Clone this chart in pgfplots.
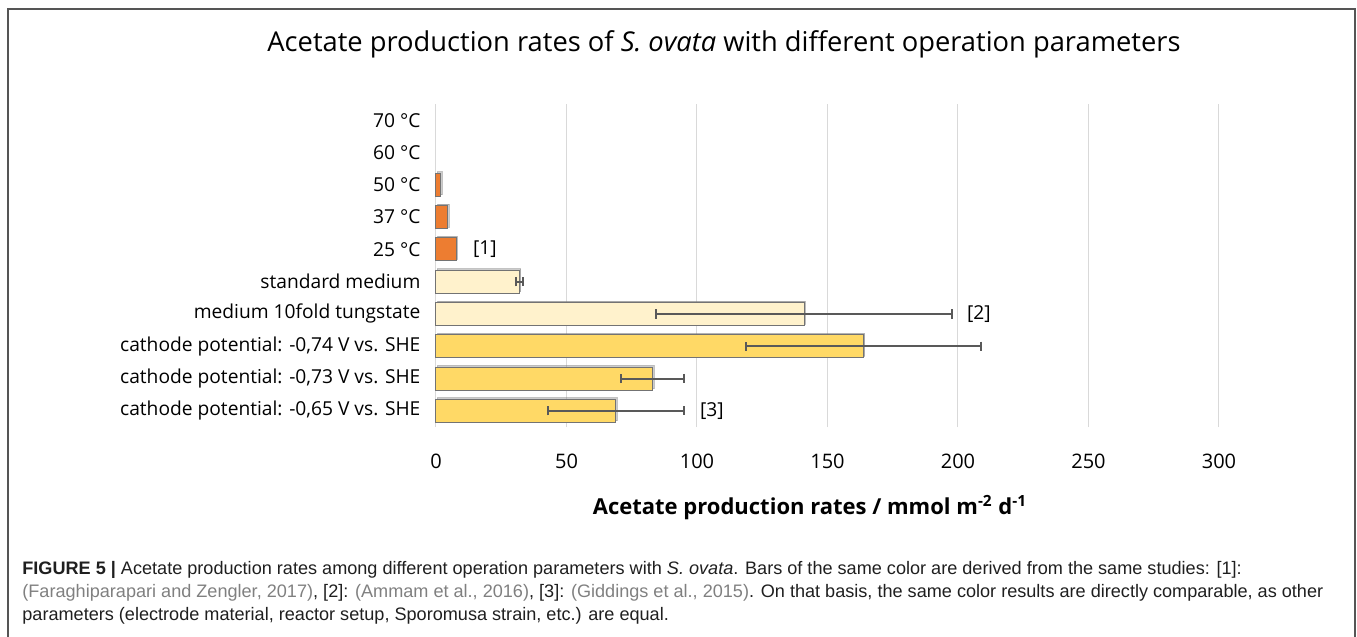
\documentclass[border=0pt]{standalone}
\usepackage{fontspec}
\setmainfont{Open Sans}
\newfontfamily\capfont{Liberation Sans}
\usepackage{pgfplots}
\pgfplotsset{compat=1.18}
\usetikzlibrary{shadows}
\definecolor{barorange}{HTML}{ED7D31}
\definecolor{barcream}{HTML}{FFF2CC}
\definecolor{bargold}{HTML}{FFD966}
\definecolor{gridgray}{HTML}{D9D9D9}
\definecolor{errgray}{HTML}{595959}
\definecolor{framegray}{HTML}{555555}
\begin{document}
\begin{tikzpicture}
\path[use as bounding box] (0,0) rectangle (678.5pt,-318.5pt);
% frame
\draw[framegray, line width=0.6pt] (4pt,-318.5pt) -- (4pt,-4.5pt) -- (677.5pt,-4.5pt) -- (677.5pt,-318.5pt);
% title
\node[font=\fontsize{13.65}{16}\selectfont] at (362pt,-22pt) {Acetate production rates of \textit{S. ovata} with different operation parameters};
\begin{axis}[
  at={(218pt,-213.5pt)}, anchor=south west,
  scale only axis, width=391.5pt, height=161.5pt,
  xbar, bar width=11.5pt,
  xmin=0, xmax=300, ymin=-0.5, ymax=9.5,
  xtick={0,50,...,300},
  ytick={0,...,9},
  yticklabels={cathode potential: -0{,}65 V vs. SHE, cathode potential: -0{,}73 V vs. SHE, cathode potential: -0{,}74 V vs. SHE, medium 10fold tungstate, standard medium, 25 °C, 37 °C, 50 °C, 60 °C, 70 °C},
  xmajorgrids, grid style={draw=gridgray, line width=0.5pt},
  axis line style={draw=none}, tick style={draw=none},
  /pgf/number format/assume math mode=true,
  xticklabel style={font=\fontsize{10}{12}\selectfont, yshift=-10pt},
  yticklabel style={font=\fontsize{9.6}{11}\selectfont, xshift=0pt},
  clip=false,
]
\addplot[bar shift=0pt, fill=barorange, draw=black!55, line width=0.5pt,
  drop shadow={shadow xshift=0.7pt, shadow yshift=0.7pt, opacity=0.4}]
  coordinates {(7.7,5) (4.5,6) (1.8,7)};
\addplot[bar shift=0pt, fill=barcream, draw=black!55, line width=0.5pt,
  drop shadow={shadow xshift=0.7pt, shadow yshift=0.7pt, opacity=0.4},
  error bars/.cd, x dir=both, x explicit, error mark=|,
  error bar style={line width=1pt, draw=errgray},
  error mark options={mark size=2.3pt, line width=1pt, draw=errgray, rotate=0}]
  coordinates {(32,4) +- (1.5,0) (141,3) +- (56.6,0)};
\addplot[bar shift=0pt, fill=bargold, draw=black!55, line width=0.5pt,
  drop shadow={shadow xshift=0.7pt, shadow yshift=0.7pt, opacity=0.4},
  error bars/.cd, x dir=both, x explicit, error mark=|,
  error bar style={line width=1pt, draw=errgray},
  error mark options={mark size=2.3pt, line width=1pt, draw=errgray, rotate=0}]
  coordinates {(163.8,2) +- (45,0) (83,1) +- (12,0) (68.9,0) +- (26,0)};
\node[anchor=west, font=\fontsize{9.6}{11}\selectfont] at (axis cs:11.5,5) {[1]};
\node[anchor=west, font=\fontsize{9.6}{11}\selectfont] at (axis cs:200.8,3) {[2]};
\node[anchor=west, font=\fontsize{9.6}{11}\selectfont] at (axis cs:98.5,0) {[3]};
\end{axis}
% x label
\node[font=\bfseries\fontsize{11}{13}\selectfont] at (405pt,-254pt) {Acetate production rates / mmol m\textsuperscript{-2} d\textsuperscript{-1}};
% caption
\begin{scope}[every node/.style={anchor=base west, inner sep=0pt, font=\capfont\fontsize{9.05}{11}\selectfont, text=black!88}]
\node at (11pt,-287pt) {\textbf{FIGURE 5 |} Acetate production rates among different operation parameters with \textit{S. ovata}. Bars of the same color are derived from the same studies: [1]:};
\node at (11pt,-298.5pt) {{\color{black!50}(Faraghiparapari and Zengler, 2017)}, [2]: {\color{black!50}(Ammam et al., 2016)}, [3]: {\color{black!50}(Giddings et al., 2015)}. On that basis, the same color results are directly comparable, as other};
\node at (11pt,-310pt) {parameters (electrode material, reactor setup, Sporomusa strain, etc.) are equal.};
\end{scope}
\end{tikzpicture}
\end{document}
